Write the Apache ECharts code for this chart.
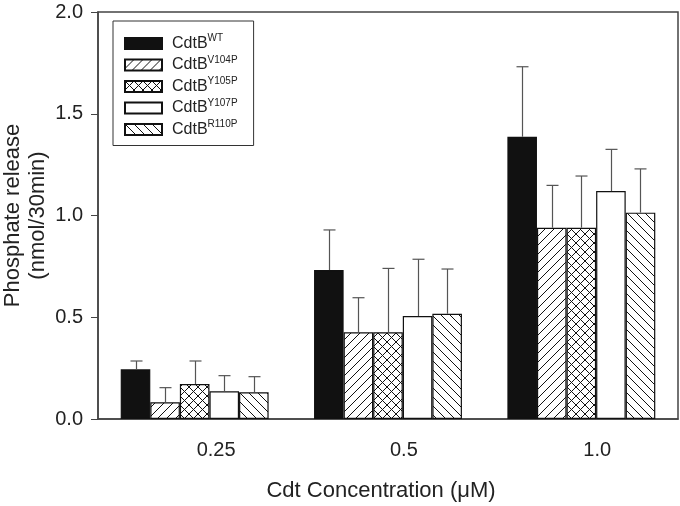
<!DOCTYPE html>
<html>
<head>
<meta charset="utf-8">
<script src="https://cdn.jsdelivr.net/npm/echarts@6/dist/echarts.min.js"></script>
<style>
  html, body { margin: 0; padding: 0; background: #fff; }
  #chart { width: 680px; height: 506px; }
</style>
</head>
<body>
<div id="chart"></div>
<script>
// ---- Data ----
const categories = ['0.25', '0.5', '1.0'];
const seriesNames = ['WT', 'V104P', 'Y105P', 'Y107P', 'R110P'];
const wtValues    = [0.244, 0.732, 1.387];
const wtErrors    = [0.041, 0.197, 0.344];
const v104pValues = [0.082, 0.426, 0.940];
const v104pErrors = [0.072, 0.170, 0.208];
const y105pValues = [0.172, 0.426, 0.940];
const y105pErrors = [0.113, 0.314, 0.254];
const y107pValues = [0.136, 0.506, 1.120];
const y107pErrors = [0.077, 0.279, 0.205];
const r110pValues = [0.131, 0.517, 1.014];
const r110pErrors = [0.077, 0.220, 0.215];
const yTicks = [0, 0.5, 1.0, 1.5, 2.0];

const allValues = [wtValues, v104pValues, y105pValues, y107pValues, r110pValues];
const allErrors = [wtErrors, v104pErrors, y105pErrors, y107pErrors, r110pErrors];

// ---- Patterns ----
function makePattern(kind) {
  const s = 9;
  const c = document.createElement('canvas');
  c.width = s; c.height = s;
  const ctx = c.getContext('2d');
  ctx.fillStyle = '#fff';
  ctx.fillRect(0, 0, s, s);
  ctx.strokeStyle = '#111';
  ctx.lineWidth = 1;
  function fwd() {
    ctx.beginPath();
    ctx.moveTo(-s, s * 2); ctx.lineTo(s * 2, -s);
    ctx.moveTo(-s, s); ctx.lineTo(s, -s);
    ctx.moveTo(0, s * 2); ctx.lineTo(s * 2, 0);
    ctx.stroke();
  }
  function back() {
    ctx.beginPath();
    ctx.moveTo(-s, -s); ctx.lineTo(s * 2, s * 2);
    ctx.moveTo(-s, 0); ctx.lineTo(s, s * 2);
    ctx.moveTo(0, -s); ctx.lineTo(s * 2, s);
    ctx.stroke();
  }
  if (kind === 'fwd') fwd();
  if (kind === 'back') back();
  if (kind === 'cross') { fwd(); back(); }
  return { image: c, repeat: 'repeat' };
}

const fills = ['#111', makePattern('fwd'), makePattern('cross'), '#fff', makePattern('back')];

const GAP = 0.235;
const barSeries = seriesNames.map((n, i) => ({
  name: n,
  type: 'bar',
  data: allValues[i],
  barGap: '0%',
  barCategoryGap: (GAP * 100) + '%',
  itemStyle: { color: fills[i], borderColor: '#111', borderWidth: 1.2 },
  z: 2
}));

const errSeries = seriesNames.map((n, i) => ({
  name: n + '_err',
  type: 'custom',
  z: 3,
  silent: true,
  data: categories.map((c, k) => [k, allValues[i][k], allErrors[i][k]]),
  renderItem: function (params, api) {
    const cat = api.value(0), v = api.value(1), e = api.value(2);
    const base = api.coord([cat, v]);
    const top = api.coord([cat, v + e]);
    const band = api.size([1, 0])[0];
    const bw = band * (1 - GAP) / seriesNames.length;
    const x = Math.round(base[0] + (i - (seriesNames.length - 1) / 2) * bw) + 0.5;
    const st = { stroke: '#555', lineWidth: 1.2 };
    return {
      type: 'group',
      children: [
        { type: 'line', shape: { x1: x, y1: base[1], x2: x, y2: top[1] }, style: st },
        { type: 'line', shape: { x1: x - 6, y1: top[1], x2: x + 6, y2: top[1] }, style: st }
      ]
    };
  }
}));

const chart = echarts.init(document.getElementById('chart'));
const font = 'Liberation Sans, Arial, sans-serif';
chart.setOption({
  animation: false,
  backgroundColor: '#fff',
  textStyle: { fontFamily: font },
  grid: { left: 98, right: 2, top: 12, bottom: 87, containLabel: false, outerBoundsMode: 'none',
          show: true, borderColor: '#444', borderWidth: 1.5, backgroundColor: 'transparent' },
  legend: {
    data: seriesNames,
    orient: 'vertical',
    left: 113, top: 21,
    icon: 'rect',
    itemWidth: 37, itemHeight: 11, itemGap: 3.5,
    padding: [12.5, 16, 8, 11],
    borderColor: '#333', borderWidth: 1,
    backgroundColor: '#fff',
    formatter: n => '{b|CdtB}{s|' + n + '}',
    textStyle: {
      rich: {
        b: { fontSize: 16, color: '#222', lineHeight: 20, padding: [0, 0, 0, 5], fontFamily: font },
        s: { fontSize: 10, color: '#222', lineHeight: 10, verticalAlign: 'top', fontFamily: font }
      }
    }
  },
  xAxis: {
    type: 'category',
    data: categories,
    name: 'Cdt Concentration (\u03bcM)',
    nameLocation: 'middle',
    nameGap: 61,
    nameMoveOverlap: false,
    nameTextStyle: { fontSize: 22, color: '#222', fontFamily: font, padding: [0, 14, 0, 0] },
    axisLine: { lineStyle: { color: '#444', width: 1.5 } },
    axisTick: { alignWithLabel: true, length: 6, lineStyle: { color: '#444' } },
    axisLabel: { fontSize: 20, color: '#222', margin: 21, fontFamily: font, align: 'left', padding: [0, 0, 0, 2] },
    splitLine: { show: false }
  },
  yAxis: {
    type: 'value',
    min: 0, max: 2, interval: 0.5,
    name: 'Phosphate release\n(nmol/30min)',
    nameLocation: 'middle',
    nameGap: 48,
    nameMoveOverlap: false,
    nameRotate: 90,
    nameTextStyle: { fontSize: 22, color: '#222', lineHeight: 25, fontFamily: font },
    axisLine: { show: true, lineStyle: { color: '#444', width: 1.5 } },
    axisTick: { show: true, length: 7, lineStyle: { color: '#444' } },
    axisLabel: { fontSize: 20, color: '#222', margin: 15, fontFamily: font,
      formatter: v => yTicks.includes(v) ? v.toFixed(1) : '' },
    splitLine: { show: false }
  },
  series: barSeries.concat(errSeries)
});
</script>
</body>
</html>
